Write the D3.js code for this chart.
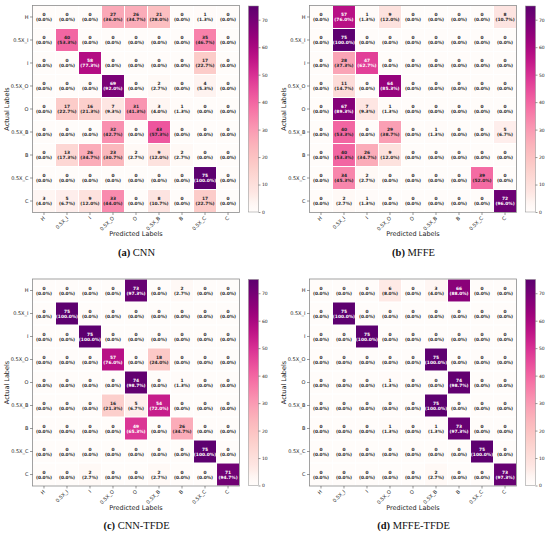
<!DOCTYPE html>
<html>
<head>
<meta charset="utf-8">
<script src="https://cdn.jsdelivr.net/npm/d3@7"></script>
<style>
  body { margin: 0; background: #fff; }
  svg { display: block; }
</style>
</head>
<body>
<svg width="550" height="533"></svg>
<script>
// Labels shared by every matrix
const classes = ['H', '0.5X_I', 'I', '0.5X_O', 'O', '0.5X_B', 'B', '0.5X_C', 'C'];

// Confusion matrices (rows = actual, cols = predicted)
const cnn = [
  [0, 0, 0, 27, 26, 21, 0, 1, 0],
  [0, 40, 0, 0, 0, 0, 0, 35, 0],
  [0, 0, 58, 0, 0, 0, 0, 17, 0],
  [0, 0, 0, 69, 0, 2, 0, 4, 0],
  [0, 17, 16, 7, 31, 3, 1, 0, 0],
  [0, 0, 0, 32, 0, 43, 0, 0, 0],
  [0, 13, 26, 23, 2, 9, 2, 0, 0],
  [0, 0, 0, 0, 0, 0, 0, 75, 0],
  [3, 5, 9, 33, 0, 8, 0, 17, 0]
];
const mffe = [
  [0, 57, 1, 9, 0, 0, 0, 0, 8],
  [0, 75, 0, 0, 0, 0, 0, 0, 0],
  [0, 28, 47, 0, 0, 0, 0, 0, 0],
  [0, 11, 0, 64, 0, 0, 0, 0, 0],
  [0, 67, 7, 1, 0, 0, 0, 0, 0],
  [0, 40, 0, 29, 0, 1, 0, 0, 5],
  [0, 40, 26, 9, 0, 0, 0, 0, 0],
  [0, 34, 2, 0, 0, 0, 0, 39, 0],
  [0, 2, 1, 0, 0, 0, 0, 0, 72]
];
const cnnTfde = [
  [0, 0, 0, 0, 73, 0, 2, 0, 0],
  [0, 75, 0, 0, 0, 0, 0, 0, 0],
  [0, 0, 75, 0, 0, 0, 0, 0, 0],
  [0, 0, 0, 57, 0, 18, 0, 0, 0],
  [0, 0, 0, 0, 74, 0, 1, 0, 0],
  [0, 0, 0, 16, 5, 54, 0, 0, 0],
  [0, 0, 0, 0, 49, 0, 26, 0, 0],
  [0, 0, 0, 0, 0, 0, 0, 75, 0],
  [0, 0, 2, 0, 0, 2, 0, 0, 71]
];
const mffeTfde = [
  [0, 0, 0, 6, 0, 3, 66, 0, 0],
  [0, 75, 0, 0, 0, 0, 0, 0, 0],
  [0, 0, 75, 0, 0, 0, 0, 0, 0],
  [0, 0, 0, 0, 0, 75, 0, 0, 0],
  [0, 0, 0, 1, 0, 0, 74, 0, 0],
  [0, 0, 0, 0, 0, 75, 0, 0, 0],
  [0, 0, 0, 1, 0, 1, 73, 0, 0],
  [0, 0, 0, 0, 0, 0, 0, 75, 0],
  [0, 0, 0, 0, 0, 2, 0, 0, 73]
];

const matrices = [cnn, mffe, cnnTfde, mffeTfde];
const captionTags = ['(a)', '(b)', '(c)', '(d)'];
const captionNames = ['CNN', 'MFFE', 'CNN-TFDE', 'MFFE-TFDE'];
const colorTicks = [0, 10, 20, 30, 40, 50, 60, 70];
const rowTotal = 75;

const svg = d3.select('svg');
const sans = '"DejaVu Sans", sans-serif';
const serif = '"Liberation Serif", "DejaVu Serif", serif';

// panel layout
const panelOrigins = [[0, 0], [277, 0], [0, 273.5], [277, 273.5]];
const plotLeft = 33, plotTop = 6, plotSize = 206;
const cbarLeft = 248.5, cbarWidth = 10;

const x = d3.scaleBand().domain(classes).range([plotLeft, plotLeft + plotSize]).paddingInner(0.045);
const y = d3.scaleBand().domain(classes).range([plotTop, plotTop + plotSize]).paddingInner(0.045);
// RdPu, bottom pulled toward white, top stopped a bit short of the darkest end
const color = d3.scaleSequential(function (t) {
  return d3.interpolateRgb('#fffcfa', d3.interpolateRdPu(t * 0.95))(Math.min(1, t * 12));
}).domain([0, 75]);
const cbarScale = d3.scaleLinear().domain([0, 75]).range([plotTop + plotSize, plotTop]);

// white labels only on the darker cells
function textColor(v) {
  return color.domain()[1] * 0.6 <= v ? '#ffffff' : '#262626';
}

const defs = svg.append('defs');
const grad = defs.append('linearGradient')
  .attr('id', 'cbar')
  .attr('x1', 0).attr('y1', 1).attr('x2', 0).attr('y2', 0);
d3.range(0, 1.0001, 0.025).forEach(function (t) {
  grad.append('stop').attr('offset', t).attr('stop-color', color(t * 75));
});

matrices.forEach(function (m, i) {
  const g = svg.append('g')
    .attr('transform', `translate(${panelOrigins[i][0]}, ${panelOrigins[i][1]})`);

  const cells = [];
  m.forEach(function (row, r) {
    row.forEach(function (v, c) {
      cells.push({ r: classes[r], c: classes[c], v: v });
    });
  });

  // cells
  g.append('g')
    .selectAll('rect')
    .data(cells)
    .enter()
    .append('rect')
    .attr('x', (d) => x(d.c))
    .attr('y', (d) => y(d.r))
    .attr('width', x.bandwidth())
    .attr('height', y.bandwidth())
    .attr('fill', (d) => color(d.v));

  // annotations
  const ann = g.append('g')
    .selectAll('text')
    .data(cells)
    .enter()
    .append('text')
    .attr('x', (d) => x(d.c) + x.bandwidth() / 2)
    .attr('y', (d) => y(d.r) + y.bandwidth() / 2)
    .attr('text-anchor', 'middle')
    .style('font-family', sans)
    .style('font-size', '4.4px')
    .style('font-weight', 'bold')
    .attr('fill', (d) => textColor(d.v));
  ann.append('tspan')
    .attr('x', (d) => x(d.c) + x.bandwidth() / 2)
    .attr('dy', -0.6)
    .text((d) => d.v);
  ann.append('tspan')
    .attr('x', (d) => x(d.c) + x.bandwidth() / 2)
    .attr('dy', 4.9)
    .text((d) => '(' + (d.v / rowTotal * 100).toFixed(1) + '%)');

  // frame
  g.append('rect')
    .attr('x', plotLeft - 0.5)
    .attr('y', plotTop - 0.5)
    .attr('width', plotSize + 1)
    .attr('height', plotSize + 1)
    .attr('fill', 'none')
    .attr('stroke', '#8c8c8c')
    .attr('stroke-width', 0.8);

  // axes
  const yAxis = d3.axisLeft(y).tickSize(2.5).tickPadding(1.5);
  const gy = g.append('g').attr('transform', `translate(${plotLeft - 0.5}, 0)`).call(yAxis);
  const xAxis = d3.axisBottom(x).tickSize(2.5).tickPadding(1.5);
  const gx = g.append('g').attr('transform', `translate(0, ${plotTop + plotSize + 0.5})`).call(xAxis);
  [gx, gy].forEach(function (a) {
    a.select('.domain').remove();
    a.selectAll('line').attr('stroke', '#333').attr('stroke-width', 0.5);
    a.selectAll('text').attr('fill', '#222')
      .style('font-family', sans).style('font-size', '5px');
  });
  gx.selectAll('text')
    .attr('text-anchor', 'end')
    .attr('dy', null)
    .attr('y', 0)
    .attr('transform', 'translate(1.5, 6) rotate(-45)');

  g.append('text')
    .attr('transform', `translate(9, ${plotTop + plotSize / 2}) rotate(-90)`)
    .attr('text-anchor', 'middle')
    .style('font-family', sans)
    .style('font-size', '6.5px')
    .attr('fill', '#222')
    .text('Actual Labels');
  g.append('text')
    .attr('x', plotLeft + plotSize / 2)
    .attr('y', 236)
    .attr('text-anchor', 'middle')
    .style('font-family', sans)
    .style('font-size', '6.5px')
    .attr('fill', '#222')
    .text('Predicted Labels');

  // colour bar
  g.append('rect')
    .attr('x', cbarLeft)
    .attr('y', plotTop)
    .attr('width', cbarWidth)
    .attr('height', plotSize)
    .attr('fill', 'url(#cbar)')
    .attr('stroke', '#8c8c8c')
    .attr('stroke-width', 0.5);
  const cAxis = d3.axisRight(cbarScale).tickValues(colorTicks).tickSize(2).tickPadding(1.5);
  const gc = g.append('g').attr('transform', `translate(${cbarLeft + cbarWidth}, 0)`).call(cAxis);
  gc.select('.domain').remove();
  gc.selectAll('line').attr('stroke', '#333').attr('stroke-width', 0.5);
  gc.selectAll('text').attr('fill', '#222')
    .style('font-family', sans).style('font-size', '4.5px');

  // caption
  const cap = g.append('text')
    .attr('x', plotLeft + plotSize / 2 + 0.5)
    .attr('y', 255.5)
    .attr('text-anchor', 'middle')
    .style('font-family', serif)
    .style('font-size', '10.5px')
    .attr('fill', '#111');
  cap.append('tspan').style('font-weight', 'bold').text(captionTags[i]);
  cap.append('tspan').text(' ' + captionNames[i]);
});
</script>
</body>
</html>
